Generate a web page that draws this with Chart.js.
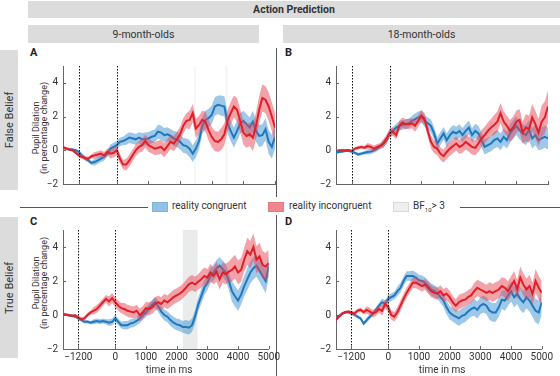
<!DOCTYPE html>
<html>
<head>
<meta charset="utf-8">
<script src="https://cdn.jsdelivr.net/npm/chart.js@4.4.1/dist/chart.umd.min.js"></script>
<style>
  body { margin: 0; width: 560px; height: 376px; position: relative; background: #fff; font-family: Roboto, sans-serif; color: #333; overflow: hidden; }
  .box { position: absolute; background: #dcdcdc; display: flex; align-items: center; justify-content: center; font-size: 10.5px; }
  .abs { position: absolute; white-space: nowrap; }
  .rot { position: absolute; white-space: nowrap; transform: translate(-50%, -50%) rotate(-90deg); }
  .letter { position: absolute; font-weight: bold; font-size: 11px; color: #222; }
  .rule { position: absolute; height: 1px; background: #555; }
  .sw { position: absolute; width: 16px; height: 10px; }
  .lg { position: absolute; font-size: 10px; top: 200px; }
  canvas { position: absolute; }
</style>
</head>
<body>

<!-- titres -->
<div class="box" style="left:28px;top:1px;width:532px;height:17px;font-weight:bold;">Action Prediction</div>
<div class="box" style="left:28px;top:25px;width:231px;height:18px;">9-month-olds</div>
<div class="box" style="left:283px;top:25px;width:277px;height:18px;">18-month-olds</div>

<!-- row labels -->
<div class="box" style="left:0;top:50px;width:18px;height:140px;"></div>
<div class="rot" style="left:9px;top:120px;font-size:11px;">False Belief</div>
<div class="box" style="left:0;top:217px;width:18px;height:141px;"></div>
<div class="rot" style="left:9px;top:288px;font-size:11px;">True Belief</div>

<!-- divider -->
<div style="position:absolute;left:276px;top:48px;width:1px;height:149px;background:#555;"></div>
<div style="position:absolute;left:276px;top:215px;width:1px;height:161px;background:#555;"></div>

<div class="letter" style="left:30px;top:46px;">A</div>
<div class="letter" style="left:285px;top:46px;">B</div>
<div class="letter" style="left:30px;top:215px;">C</div>
<div class="letter" style="left:285px;top:215px;">D</div>

<div class="rot" style="left:40px;top:128px;font-size:9px;line-height:7.5px;text-align:center;">Pupil Dilation<br>(in percentage change)</div>
<div class="rot" style="left:40px;top:283px;font-size:9px;line-height:7.5px;text-align:center;">Pupil Dilation<br>(in percentage change)</div>

<canvas id="pA" width="282" height="140" style="left:0;top:55px;"></canvas>
<canvas id="pB" width="275" height="140" style="left:280px;top:55px;"></canvas>
<canvas id="pC" width="282" height="157" style="left:0;top:219px;"></canvas>
<canvas id="pD" width="275" height="157" style="left:280px;top:219px;"></canvas>

<div class="abs" style="left:169px;top:364px;font-size:10px;transform:translateX(-50%);">time in ms</div>
<div class="abs" style="left:442px;top:364px;font-size:10px;transform:translateX(-50%);">time in ms</div>

<!-- legende -->
<div class="rule" style="left:20px;top:207px;width:128px;"></div>
<div class="sw" style="left:152px;top:202px;background:#92c2e3;border:1px solid #7fb3d8;box-sizing:border-box;"></div>
<div class="lg" style="left:172px;">reality congruent</div>
<div class="sw" style="left:268px;top:202px;background:#f0878f;border:1px solid #e57880;box-sizing:border-box;"></div>
<div class="lg" style="left:289px;">reality incongruent</div>
<div class="sw" style="left:393px;top:202px;background:#efefef;border:1px solid #dadada;box-sizing:border-box;"></div>
<div class="lg" style="left:413px;">BF<sub style="font-size:6px;">10</sub>&gt; 3</div>
<div class="rule" style="left:460px;top:207px;width:100px;"></div>

<script>
// --- DATA --- //
const timeMs = [
  -1700, -1600, -1500, -1400, -1300, -1200, -1100, -1000, -900, -800,
  -700, -600, -500, -400, -300, -200, -100, 0, 100, 200,
  300, 400, 500, 600, 700, 800, 900, 1000, 1100, 1200,
  1300, 1400, 1500, 1600, 1700, 1800, 1900, 2000, 2100, 2200,
  2300, 2400, 2500, 2600, 2700, 2800, 2900, 3000, 3100, 3200,
  3300, 3400, 3500, 3600, 3700, 3800, 3900, 4000, 4100, 4200,
  4300, 4400, 4500, 4600, 4700, 4800, 4900, 5000
];
const xTicks = [-1200, 0, 1000, 2000, 3000, 4000, 5000];
const yTicks = [-2, 0, 2, 4];
const markerMs = [-1200, 0];

// A: 9 maanden, false belief
const congruentA = [
  0.13, 0.1, 0.05, 0.04, 0, -0.1, -0.3, -0.5, -0.6, -0.75,
  -0.7, -0.6, -0.5, -0.4, -0.2, 0.1, 0.2, 0.3, 0.5, 0.55,
  0.65, 0.75, 0.7, 0.65, 0.75, 0.65, 0.67, 0.7, 0.8, 0.85,
  1.1, 1.05, 0.9, 0.95, 0.85, 0.7, 0.65, 0.5, 0.3, 0.25,
  0.1, -0.2, 0.1, 0.55, 1.45, 1.8, 1.9, 2.1, 2.6, 2.7,
  2.65, 2.6, 1.6, 1.15, 0.75, 1.15, 1.6, 1.75, 1.55, 1.35,
  1.7, 1.15, 0.85, 0.9, 1.25, 0.5, 0.2, 0.8
];
const incongruentA = [
  0.2, 0.1, 0.05, 0, -0.15, -0.3, -0.4, -0.45, -0.5, -0.35,
  -0.3, -0.25, -0.2, -0.3, -0.1, -0.2, -0.15, 0, -0.5, -0.85,
  -0.85, -0.6, -0.3, 0, 0.2, 0.3, 0.55, 0.3, 0.2, 0.1,
  0.15, 0.2, 0, 0.25, 0.5, 0.4, 0.65, 0.95, 1.45, 1.75,
  1.8, 2.2, 1.3, 1.5, 1.8, 1.7, 1.2, 0.8, 0.55, 0.5,
  0.65, 0.95, 1.75, 2.2, 2.6, 2.4, 1.75, 1.05, 0.85, 0.95,
  0.75, 1.45, 2.4, 3.1, 3.0, 2.6, 2.0, 1.35
];
const seCongruentA = [0.08, 0.12, 0.2, 0.25, 0.32, 0.38, 0.42, 0.45, 0.5, 0.55, 0.6, 0.6, 0.65, 0.7];
const seIncongruentA = [0.08, 0.12, 0.2, 0.28, 0.35, 0.38, 0.42, 0.45, 0.55, 0.6, 0.65, 0.7, 0.8, 0.85];
const bfA = [[2440, 2490], [3430, 3500]];

// B: 18 maanden, false belief
const congruentB = [
  -0.15, -0.1, -0.08, -0.04, -0.04, -0.08, -0.15, -0.25, -0.2, -0.15,
  -0.1, -0.08, 0, 0.1, 0.25, 0.4, 0.6, 1.0, 1.15, 1.35,
  1.45, 1.5, 1.55, 1.6, 1.75, 1.85, 1.95, 2.0, 1.75, 1.6,
  1.45, 1.0, 0.4, 0.7, 1.0, 0.6, 0.9, 1.1, 1.0, 1.15,
  0.9, 1.15, 1.35, 0.9, 1.15, 1.0, 0.6, 0.2, 0.3, 0.4,
  0.6, 0.7, 0.5, 0.8, 0.6, 1.0, 1.25, 1.45, 1.2, 1.0,
  0.9, 1.2, 0.7, 0.9, 0.6, 0.7, 0.8, 0.7
];
const incongruentB = [
  -0.04, 0, 0, 0, 0.02, -0.04, 0.1, 0.15, 0.2, 0.15,
  0.25, 0.2, 0.1, 0.2, 0.25, 0.4, 0.7, 1.05, 1.1, 0.9,
  1.45, 1.65, 1.55, 1.55, 1.6, 1.45, 1.75, 2.05, 1.85, 1.15,
  0.5, 0.2, 0.1, -0.2, -0.35, -0.1, 0.1, 0.25, 0.4, 0.2,
  0.3, 0.5, 0.35, 0.2, 0.15, 0.4, 0.7, 0.9, 1.15, 1.35,
  1.5, 1.7, 2.2, 1.7, 1.45, 1.15, 1.35, 1.7, 1.8, 1.05,
  1.35, 1.25, 1.95, 1.55, 1.05, 1.7, 1.95, 2.6
];
const seCongruentB = [0.06, 0.1, 0.15, 0.22, 0.28, 0.35, 0.38, 0.4, 0.42, 0.45, 0.5, 0.55, 0.6, 0.65];
const seIncongruentB = [0.06, 0.1, 0.18, 0.25, 0.3, 0.35, 0.38, 0.42, 0.45, 0.5, 0.6, 0.65, 0.8, 0.95];

// C: 9 maanden, true belief
const congruentC = [
  0.08, 0.02, -0.02, -0.05, -0.1, -0.2, -0.3, -0.4, -0.4, -0.45,
  -0.4, -0.35, -0.4, -0.35, -0.4, -0.45, -0.4, -0.2, -0.4, -0.6,
  -0.6, -0.6, -0.5, -0.45, -0.35, -0.2, 0, 0.15, 0.4, 0.6,
  0.75, 0.5, 0.2, 0, -0.1, -0.3, -0.45, -0.55, -0.6, -0.7,
  -0.7, -0.75, -0.6, -0.1, 0.6, 1.1, 1.6, 1.9, 2.3, 2.5,
  2.75, 2.9, 2.7, 2.5, 2.0, 1.4, 1.1, 0.85, 1.2, 1.7,
  2.1, 2.5, 2.75, 2.9, 2.6, 2.3, 2.0, 2.9
];
const incongruentC = [
  0.02, 0.02, -0.02, -0.05, -0.02, -0.15, -0.25, -0.2, 0, 0.15,
  0.25, 0.35, 0.55, 0.75, 0.95, 0.8, 1.0, 0.75, 0.55, 0.4,
  0.35, 0.25, 0.2, 0.15, 0.25, 0, 0.15, 0.4, 0.35, 0.45,
  0.65, 0.75, 0.65, 0.85, 0.75, 0.9, 1.05, 1.15, 1.25, 1.4,
  1.6, 1.8, 1.9, 1.8, 1.95, 2.1, 2.3, 2.2, 2.5, 2.3,
  2.55, 2.1, 2.5, 2.4, 2.55, 2.65, 2.85, 2.5, 2.65, 3.25,
  3.75, 3.55, 4.0, 3.25, 3.45, 2.95, 2.85, 3.05
];
const seCongruentC = [0.08, 0.1, 0.15, 0.2, 0.25, 0.28, 0.32, 0.35, 0.4, 0.45, 0.5, 0.6, 0.65, 0.7];
const seIncongruentC = [0.08, 0.12, 0.22, 0.3, 0.35, 0.38, 0.4, 0.42, 0.45, 0.5, 0.6, 0.7, 0.8, 0.8];
const bfC = [[2200, 2680]];

// D: 18 maanden, true belief
const congruentD = [
  -0.2, -0.05, 0.08, 0.15, 0.17, 0.08, 0.02, -0.1, -0.2, -0.5,
  -0.3, -0.1, 0.08, 0.3, 0.55, 0.75, 0.65, 0.95, 1.05, 1.15,
  1.4, 1.6, 2.0, 2.3, 2.3, 2.3, 2.2, 2.05, 2.0, 1.9,
  1.7, 1.5, 1.4, 1.3, 1.05, 0.85, 0.45, 0.15, 0, -0.1,
  -0.2, -0.05, 0.02, 0.2, 0.35, 0.45, 0.3, 0.55, 0.65, 0.55,
  0.25, 0.15, 0.15, 0.45, 0.9, 0.85, 1.15, 1.4, 1.05, 1.25,
  0.95, 0.75, 1.05, 0.85, 0.55, 0.25, 0.15, 0.75
];
const incongruentD = [
  -0.3, -0.1, 0.08, 0.17, 0.2, 0.15, 0.08, 0.25, 0.3, 0.17,
  0.3, 0.2, 0.08, 0.17, 0.35, 0.25, 0.65, 0.45, 0, -0.1,
  0.17, 0.55, 0.95, 1.3, 1.6, 1.9, 1.9, 1.8, 1.7, 1.8,
  1.6, 1.4, 1.3, 1.25, 1.4, 1.15, 1.25, 1.05, 0.75, 0.55,
  0.75, 0.85, 0.9, 1.05, 1.15, 1.4, 1.6, 1.5, 1.4, 1.3,
  1.4, 1.3, 1.4, 1.5, 1.7, 1.6, 1.4, 1.7, 2.0, 1.5,
  2.2, 1.8, 1.5, 1.7, 1.25, 2.0, 1.6, 1.3
];
const seCongruentD = [0.08, 0.1, 0.15, 0.22, 0.28, 0.32, 0.35, 0.4, 0.45, 0.5, 0.55, 0.6, 0.65, 0.7];
const seIncongruentD = [0.08, 0.12, 0.22, 0.28, 0.3, 0.32, 0.35, 0.38, 0.42, 0.48, 0.52, 0.58, 0.65, 0.7];

// --- STYLE --- //
const BLUE = '#1f78bd';
const BLUE_BAND = 'rgba(60,145,210,0.5)';
const RED = '#e11f27';
const RED_BAND = 'rgba(232,70,85,0.5)';
const minus = v => String(v).replace('-', '\u2212');

function points(mean, se, sign) {
  // se staat per blok van 500 ms (5 punten)
  return timeMs.map((t, i) => ({ x: t, y: mean[i] + sign * se[Math.floor(i / 5)] }));
}

function seriesSets(mean, se, line, band, order) {
  return [
    { data: points(mean, se, -1), borderWidth: 0, pointRadius: 0, fill: false, order: order + 1 },
    { data: points(mean, se, 1), borderWidth: 0, pointRadius: 0, backgroundColor: band, fill: '-1', order: order + 1 },
    { data: points(mean, se, 0), borderColor: line, borderWidth: 2, pointRadius: 0, fill: false, order: order }
  ];
}

function deco(bfSpans, bfColor) {
  return {
    id: 'deco',
    beforeDatasetsDraw(chart) {
      const { ctx, chartArea: a, scales: { x } } = chart;
      ctx.save();
      ctx.fillStyle = bfColor;
      bfSpans.forEach(([s, e]) => {
        const x0 = x.getPixelForValue(s), x1 = x.getPixelForValue(e);
        ctx.fillRect(x0, a.top, x1 - x0, a.bottom - a.top);
      });
      ctx.restore();
    },
    afterDatasetsDraw(chart) {
      const { ctx, chartArea: a, scales: { x, y } } = chart;
      ctx.save();
      ctx.strokeStyle = '#111';
      ctx.lineWidth = 1;
      ctx.setLineDash([1.5, 1.5]);
      markerMs.forEach(t => {
        const px = Math.round(x.getPixelForValue(t)) + 0.5;
        ctx.beginPath(); ctx.moveTo(px, a.top); ctx.lineTo(px, a.bottom); ctx.stroke();
      });
      ctx.setLineDash([]);
      ctx.strokeStyle = '#666';
      xTicks.forEach(t => {
        const px = Math.round(x.getPixelForValue(t)) + 0.5;
        ctx.beginPath(); ctx.moveTo(px, a.bottom); ctx.lineTo(px, a.bottom - 3); ctx.stroke();
      });
      yTicks.forEach(v => {
        const py = Math.round(y.getPixelForValue(v)) + 0.5;
        ctx.beginPath(); ctx.moveTo(a.left, py); ctx.lineTo(a.left + 3, py); ctx.stroke();
      });
      ctx.restore();
    }
  };
}

function makePanel(id, congruent, seC, incongruent, seI, bf, bfColor, yWidth, xHeight, showX) {
  new Chart(document.getElementById(id), {
    type: 'line',
    data: {
      datasets: [
        ...seriesSets(congruent, seC, BLUE, BLUE_BAND, 2),
        ...seriesSets(incongruent, seI, RED, RED_BAND, 0)
      ]
    },
    options: {
      responsive: false,
      animation: false,
      layout: { padding: { top: 10, right: 7, left: 0, bottom: 0 } },
      plugins: { legend: { display: false }, tooltip: { enabled: false } },
      scales: {
        x: {
          type: 'linear', min: -1700, max: 5000,
          afterBuildTicks: s => { s.ticks = xTicks.map(v => ({ value: v })); },
          afterFit: s => { s.height = xHeight; },
          grid: { display: false, drawTicks: false, tickLength: 0 },
          border: { color: '#666' },
          ticks: { display: showX, autoSkip: false, maxRotation: 0, padding: 2, color: '#333', font: { family: 'Roboto', size: 10 }, callback: minus }
        },
        y: {
          min: -2, max: 5,
          afterBuildTicks: s => { s.ticks = yTicks.map(v => ({ value: v })); },
          afterFit: s => { s.width = yWidth; },
          grid: { display: false, drawTicks: false, tickLength: 0 },
          border: { color: '#666' },
          ticks: { padding: 5, color: '#333', font: { family: 'Roboto', size: 10 }, callback: minus }
        }
      }
    },
    plugins: [deco(bf, bfColor)]
  });
}

makePanel('pA', congruentA, seCongruentA, incongruentA, seIncongruentA, bfA, '#f3f4f4', 63, 8, false);
makePanel('pB', congruentB, seCongruentB, incongruentB, seIncongruentB, [], '#fff', 56, 8, false);
makePanel('pC', congruentC, seCongruentC, incongruentC, seIncongruentC, bfC, '#eaecec', 63, 27, true);
makePanel('pD', congruentD, seCongruentD, incongruentD, seIncongruentD, [], '#fff', 56, 27, true);
</script>
</body>
</html>
